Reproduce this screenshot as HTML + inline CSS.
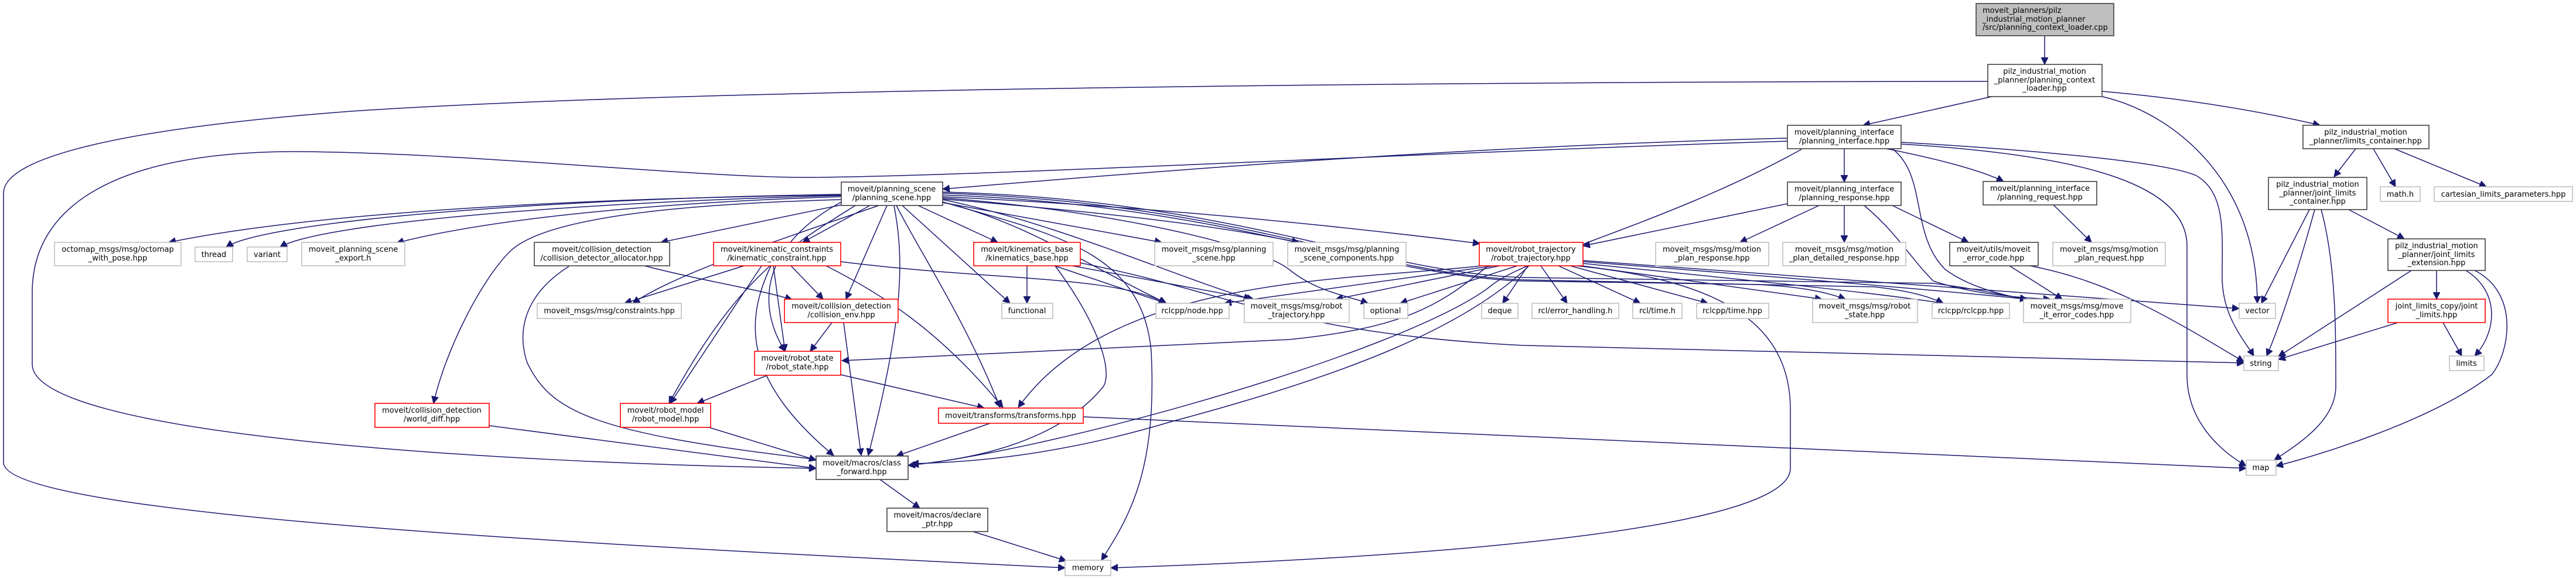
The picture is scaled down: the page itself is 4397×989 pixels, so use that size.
<!DOCTYPE html>
<html><head><meta charset="utf-8"><style>
html,body{margin:0;padding:0;background:#fff;}
svg{display:block;}
text{font-family:"DejaVu Sans","Liberation Sans",sans-serif;font-size:13px;fill:#000;}
.e{fill:none;stroke:#191970;stroke-width:1.5;marker-end:url(#ah);}
.nb{fill:#fff;stroke:#404040;stroke-width:1.6;}
.ng{fill:#fff;stroke:#bfbfbf;stroke-width:1.6;}
.nr{fill:#fff;stroke:#ff0000;stroke-width:1.6;}
</style></head><body>
<svg width="4397" height="989" viewBox="0 0 4397 989" xmlns="http://www.w3.org/2000/svg">
<defs><marker id="ah" markerUnits="userSpaceOnUse" markerWidth="14" markerHeight="12" refX="12" refY="6" orient="auto"><path d="M0,0 L12,6 L0,12 z" fill="#191970" stroke="#191970"/></marker></defs>
<rect width="4397" height="989" fill="#fff"/>
<g>
<path class="e" d="M3490,61 L3490,110"/>
<path class="e" d="M3400,165 L3180,214"/>
<path class="e" d="M3588,156 C3750,170 3880,195 3960,214"/>
<path class="e" d="M3588,165 C3700,190 3853,300 3853,518"/>
<path class="e" d="M3393,139 C2500,140 1200,150 600,190 C200,220 6,270 6,330 L6,790 C6,880 1000,930 1818,970"/>
<path class="e" d="M3051,236 C2500,250 2000,290 1609,323"/>
<path class="e" d="M3051,241 C2400,262 1700,300 1390,303 C1200,305 800,260 500,259 C200,260 55,350 55,500 L55,622 C55,740 800,790 1393,800"/>
<path class="e" d="M3148,254 L3148,311"/>
<path class="e" d="M3220,254 C3300,270 3380,290 3420,310"/>
<path class="e" d="M3245,243 C3500,258 3700,278 3749,300 C3800,330 3793,400 3793,473 C3793,540 3830,580 3847,608"/>
<path class="e" d="M3245,246 C3500,262 3733,300 3733,420 L3733,640 C3733,720 3790,770 3834,796"/>
<path class="e" d="M3075,255 C2850,380 2600,440 2544,489 C2400,600 1800,770 1550,795"/>
<path class="e" d="M3230,254 C3290,300 3260,400 3320,460 C3360,490 3420,505 3460,511"/>
<path class="e" d="M3051,348 L2702,420"/>
<path class="e" d="M3105,351 L2970,414"/>
<path class="e" d="M3148,351 L3148,414"/>
<path class="e" d="M3230,351 L3360,414"/>
<path class="e" d="M3182,351 C3240,400 3260,440 3300,480 C3360,500 3430,508 3500,511"/>
<path class="e" d="M3505,350 L3570,414"/>
<path class="e" d="M3430,454 L3520,511"/>
<path class="e" d="M3465,454 C3600,480 3700,540 3830,618"/>
<path class="e" d="M4021,254 L3984,302"/>
<path class="e" d="M4051,254 L4089,319"/>
<path class="e" d="M4087,254 L4244,319"/>
<path class="e" d="M3942,358 L3860,518"/>
<path class="e" d="M3951,358 C3920,470 3890,560 3869,608"/>
<path class="e" d="M3962,358 C3987,450 3987,560 3987,660 C3987,720 3920,760 3882,786"/>
<path class="e" d="M4009,358 L4104,408"/>
<path class="e" d="M4159,462 L4159,511"/>
<path class="e" d="M4116,462 L3889,609"/>
<path class="e" d="M4209,462 C4270,500 4260,570 4224,608"/>
<path class="e" d="M4224,462 C4300,500 4285,600 4253,640 C4150,720 3950,780 3885,796"/>
<path class="e" d="M4093,551 L3889,614"/>
<path class="e" d="M4170,551 L4202,608"/>
<path class="e" d="M1436,333 C900,340 500,370 288,414"/>
<path class="e" d="M1436,332 C900,340 450,380 386,422"/>
<path class="e" d="M1436,334 C1000,345 550,380 478,422"/>
<path class="e" d="M1436,336 C1150,345 850,370 677,415"/>
<path class="e" d="M1436,350 L1128,414"/>
<path class="e" d="M1485,351 L1370,414"/>
<path class="e" d="M1567,351 L1703,414"/>
<path class="e" d="M1609,346 L1983,414"/>
<path class="e" d="M1609,340 C1850,360 2050,380 2217,414"/>
<path class="e" d="M1609,336 C1900,350 2200,375 2526,416"/>
<path class="e" d="M1514,351 L1444,511"/>
<path class="e" d="M1526,351 C1545,450 1540,550 1482,778"/>
<path class="e" d="M1530,351 C1570,430 1650,550 1707,696"/>
<path class="e" d="M1540,351 L1724,518"/>
<path class="e" d="M1609,345 C1750,380 1850,450 1991,518"/>
<path class="e" d="M1609,341 C1800,380 2000,470 2135,511"/>
<path class="e" d="M1609,338 C1900,360 2150,420 2200,460 C2250,500 2300,505 2335,518"/>
<path class="e" d="M1436,345 C1300,420 1290,520 1340,600"/>
<path class="e" d="M1460,351 C1350,420 1260,470 1142,689"/>
<path class="e" d="M1436,341 C1100,350 920,380 870,430 C820,480 760,600 740,689"/>
<path class="e" d="M1609,345 C1800,400 1950,430 1965,600 C1975,800 1930,880 1880,957"/>
<path class="e" d="M1609,330 C2100,345 2350,470 2600,478 L3200,490 C3270,498 3300,510 3317,518"/>
<path class="e" d="M1609,333 C2100,350 2350,472 2600,480 L3000,486 C3080,490 3120,500 3150,511"/>
<path class="e" d="M1609,328 C2100,340 2350,466 2600,474 L3300,484 C3380,494 3420,505 3460,511"/>
<path class="e" d="M1500,351 C1300,420 1150,470 1080,518"/>
<path class="e" d="M1270,454 L1066,518"/>
<path class="e" d="M1100,454 C1200,480 1300,495 1352,512"/>
<path class="e" d="M971,455 C900,500 880,560 900,620 C940,700 1000,740 1405,786"/>
<path class="e" d="M1350,454 L1405,511"/>
<path class="e" d="M1320,454 L1340,600"/>
<path class="e" d="M1300,454 L1144,689"/>
<path class="e" d="M1316,454 C1270,550 1270,650 1423,778"/>
<path class="e" d="M1410,454 C1500,500 1600,560 1712,696"/>
<path class="e" d="M1435,447 C1700,480 1900,470 1990,518"/>
<path class="e" d="M1753,454 L1753,518"/>
<path class="e" d="M1801,454 C1880,560 1900,640 1882,662 C1800,760 1650,785 1556,794"/>
<path class="e" d="M1800,454 L1990,518"/>
<path class="e" d="M1844,449 C2100,500 2200,570 2600,590 L3830,620"/>
<path class="e" d="M1830,454 L2140,511"/>
<path class="e" d="M2550,454 L2090,518"/>
<path class="e" d="M2560,454 L2280,511"/>
<path class="e" d="M2590,454 L2390,518"/>
<path class="e" d="M2608,454 L2565,518"/>
<path class="e" d="M2630,454 L2675,518"/>
<path class="e" d="M2660,454 L2800,518"/>
<path class="e" d="M2680,454 L2915,518"/>
<path class="e" d="M2700,454 L3110,511"/>
<path class="e" d="M2702,450 C3000,480 3200,500 3317,518"/>
<path class="e" d="M2702,447 C3000,470 3300,495 3460,511"/>
<path class="e" d="M2540,454 C2460,520 2400,560 2200,580 L1437,616"/>
<path class="e" d="M2530,454 C2300,480 1900,470 1738,696"/>
<path class="e" d="M2610,454 C2500,560 2300,640 2000,720 C1800,780 1650,790 1556,792"/>
<path class="e" d="M2690,454 C2950,480 3056,560 3056,700 L3056,800 C3056,900 2500,950 1896,970"/>
<path class="e" d="M2702,445 C3000,470 3400,495 3822,527"/>
<path class="e" d="M1420,551 L1383,600"/>
<path class="e" d="M1440,551 L1470,778"/>
<path class="e" d="M1310,641 L1190,689"/>
<path class="e" d="M1435,640 L1680,697"/>
<path class="e" d="M1210,730 L1393,786"/>
<path class="e" d="M835,727 L1393,800"/>
<path class="e" d="M1690,723 L1530,779"/>
<path class="e" d="M1849,712 L3834,800"/>
<path class="e" d="M1502,819 L1570,868"/>
<path class="e" d="M1661,908 L1820,958"/>
</g>
<g>
<rect x="3373" y="6" width="235" height="55" fill="#bfbfbf" stroke="#404040" stroke-width="1.6"/>
<text x="3384" y="22">moveit_planners/pilz</text><text x="3384" y="37">_industrial_motion_planner</text><text x="3384" y="51">/src/planning_context_loader.cpp</text>
</g>
<g text-anchor="middle">
<rect class="nb" x="3393" y="110" width="195" height="55"/><text x="3490" y="126">pilz_industrial_motion</text><text x="3490" y="141">_planner/planning_context</text><text x="3490" y="155">_loader.hpp</text>
<rect class="nb" x="3051" y="214" width="194" height="40"/><text x="3148" y="230">moveit/planning_interface</text><text x="3148" y="245">/planning_interface.hpp</text>
<rect class="nb" x="3931" y="214" width="215" height="40"/><text x="4038" y="230">pilz_industrial_motion</text><text x="4038" y="245">_planner/limits_container.hpp</text>
<rect class="nb" x="1436" y="311" width="173" height="40"/><text x="1522" y="327">moveit/planning_scene</text><text x="1522" y="342">/planning_scene.hpp</text>
<rect class="nb" x="3051" y="311" width="194" height="40"/><text x="3148" y="327">moveit/planning_interface</text><text x="3148" y="342">/planning_response.hpp</text>
<rect class="nb" x="3385" y="310" width="194" height="40"/><text x="3482" y="326">moveit/planning_interface</text><text x="3482" y="341">/planning_request.hpp</text>
<rect class="nb" x="3872" y="303" width="168" height="55"/><text x="3956" y="319">pilz_industrial_motion</text><text x="3956" y="334">_planner/joint_limits</text><text x="3956" y="348">_container.hpp</text>
<rect class="ng" x="4063" y="319" width="68" height="25"/><text x="4097" y="336">math.h</text>
<rect class="ng" x="4155" y="319" width="236" height="25"/><text x="4273" y="336">cartesian_limits_parameters.hpp</text>
<rect class="nb" x="4076" y="408" width="166" height="54"/><text x="4159" y="424">pilz_industrial_motion</text><text x="4159" y="439">_planner/joint_limits</text><text x="4159" y="453">_extension.hpp</text>
<rect class="ng" x="93" y="414" width="216" height="40"/><text x="201" y="430">octomap_msgs/msg/octomap</text><text x="201" y="445">_with_pose.hpp</text>
<rect class="ng" x="333" y="422" width="64" height="25"/><text x="365" y="439">thread</text>
<rect class="ng" x="422" y="422" width="68" height="25"/><text x="456" y="439">variant</text>
<rect class="ng" x="515" y="414" width="176" height="40"/><text x="603" y="430">moveit_planning_scene</text><text x="603" y="445">_export.h</text>
<rect class="nb" x="912" y="414" width="231" height="40"/><text x="1027" y="430">moveit/collision_detection</text><text x="1027" y="445">/collision_detector_allocator.hpp</text>
<rect class="nr" x="1218" y="414" width="217" height="40"/><text x="1326" y="430">moveit/kinematic_constraints</text><text x="1326" y="445">/kinematic_constraint.hpp</text>
<rect class="nr" x="1662" y="414" width="182" height="40"/><text x="1753" y="430">moveit/kinematics_base</text><text x="1753" y="445">/kinematics_base.hpp</text>
<rect class="ng" x="1971" y="414" width="202" height="40"/><text x="2072" y="430">moveit_msgs/msg/planning</text><text x="2072" y="445">_scene.hpp</text>
<rect class="ng" x="2198" y="414" width="202" height="40"/><text x="2299" y="430">moveit_msgs/msg/planning</text><text x="2299" y="445">_scene_components.hpp</text>
<rect class="nr" x="2525" y="414" width="177" height="40"/><text x="2613" y="430">moveit/robot_trajectory</text><text x="2613" y="445">/robot_trajectory.hpp</text>
<rect class="ng" x="2826" y="414" width="193" height="40"/><text x="2922" y="430">moveit_msgs/msg/motion</text><text x="2922" y="445">_plan_response.hpp</text>
<rect class="ng" x="3043" y="414" width="210" height="40"/><text x="3148" y="430">moveit_msgs/msg/motion</text><text x="3148" y="445">_plan_detailed_response.hpp</text>
<rect class="nb" x="3328" y="414" width="151" height="40"/><text x="3403" y="430">moveit/utils/moveit</text><text x="3403" y="445">_error_code.hpp</text>
<rect class="ng" x="3504" y="414" width="192" height="40"/><text x="3600" y="430">moveit_msgs/msg/motion</text><text x="3600" y="445">_plan_request.hpp</text>
<rect class="ng" x="917" y="518" width="246" height="26"/><text x="1040" y="535">moveit_msgs/msg/constraints.hpp</text>
<rect class="nr" x="1339" y="511" width="194" height="40"/><text x="1436" y="527">moveit/collision_detection</text><text x="1436" y="542">/collision_env.hpp</text>
<rect class="ng" x="1710" y="518" width="87" height="26"/><text x="1753" y="535">functional</text>
<rect class="ng" x="1973" y="518" width="125" height="26"/><text x="2035" y="535">rclcpp/node.hpp</text>
<rect class="ng" x="2124" y="511" width="179" height="40"/><text x="2213" y="527">moveit_msgs/msg/robot</text><text x="2213" y="542">_trajectory.hpp</text>
<rect class="ng" x="2328" y="518" width="75" height="26"/><text x="2365" y="535">optional</text>
<rect class="ng" x="2529" y="518" width="62" height="26"/><text x="2560" y="535">deque</text>
<rect class="ng" x="2615" y="518" width="148" height="26"/><text x="2689" y="535">rcl/error_handling.h</text>
<rect class="ng" x="2787" y="518" width="84" height="26"/><text x="2829" y="535">rcl/time.h</text>
<rect class="ng" x="2896" y="518" width="123" height="26"/><text x="2957" y="535">rclcpp/time.hpp</text>
<rect class="ng" x="3094" y="511" width="179" height="40"/><text x="3183" y="527">moveit_msgs/msg/robot</text><text x="3183" y="542">_state.hpp</text>
<rect class="ng" x="3298" y="518" width="132" height="26"/><text x="3364" y="535">rclcpp/rclcpp.hpp</text>
<rect class="ng" x="3454" y="511" width="183" height="40"/><text x="3545" y="527">moveit_msgs/msg/move</text><text x="3545" y="542">_it_error_codes.hpp</text>
<rect class="ng" x="3822" y="518" width="62" height="26"/><text x="3853" y="535">vector</text>
<rect class="nr" x="4076" y="511" width="166" height="40"/><text x="4159" y="527">joint_limits_copy/joint</text><text x="4159" y="542">_limits.hpp</text>
<rect class="nr" x="1288" y="600" width="147" height="41"/><text x="1361" y="616">moveit/robot_state</text><text x="1361" y="631">/robot_state.hpp</text>
<rect class="ng" x="3830" y="608" width="59" height="25"/><text x="3859" y="625">string</text>
<rect class="ng" x="4181" y="608" width="59" height="25"/><text x="4210" y="625">limits</text>
<rect class="nr" x="640" y="689" width="195" height="41"/><text x="737" y="705">moveit/collision_detection</text><text x="737" y="720">/world_diff.hpp</text>
<rect class="nr" x="1059" y="689" width="154" height="41"/><text x="1136" y="705">moveit/robot_model</text><text x="1136" y="720">/robot_model.hpp</text>
<rect class="nr" x="1602" y="697" width="247" height="26"/><text x="1725" y="714">moveit/transforms/transforms.hpp</text>
<rect class="nb" x="1393" y="779" width="157" height="40"/><text x="1471" y="795">moveit/macros/class</text><text x="1471" y="810">_forward.hpp</text>
<rect class="ng" x="3834" y="786" width="51" height="26"/><text x="3859" y="803">map</text>
<rect class="nb" x="1514" y="868" width="172" height="40"/><text x="1600" y="884">moveit/macros/declare</text><text x="1600" y="899">_ptr.hpp</text>
<rect class="ng" x="1818" y="957" width="78" height="26"/><text x="1857" y="974">memory</text>
</g>
</svg>
</body></html>
